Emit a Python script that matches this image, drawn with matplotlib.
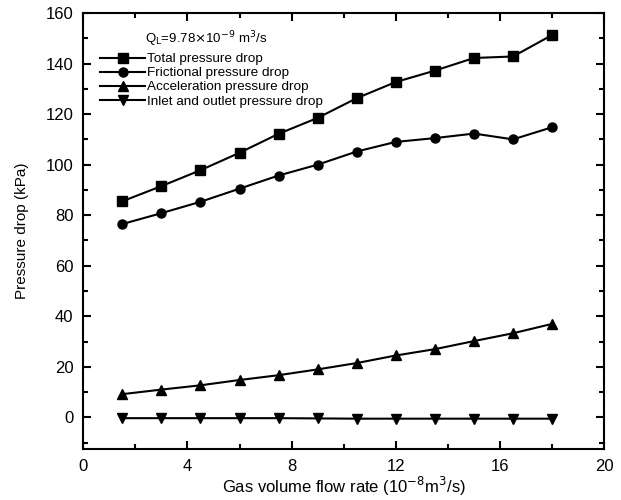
import matplotlib.pyplot as plt
import numpy as np
from matplotlib.ticker import MultipleLocator

plt.rcParams['font.family'] = ['Liberation Sans', 'DejaVu Sans']

# gas volume flow rate (1e-8 m^3/s)
q_gas = [1.5, 3.0, 4.5, 6.0, 7.5, 9.0, 10.5, 12.0, 13.5, 15.0, 16.5, 18.0]
total = [85.5, 91.5, 97.8, 104.7, 112.2, 118.5, 126.3, 132.7, 137.2, 142.2, 142.8, 151.3]
frictional = [76.5, 80.8, 85.3, 90.5, 95.7, 100.0, 105.2, 109.0, 110.5, 112.3, 110.0, 114.8]
acceleration = [9.2, 11.0, 12.7, 14.8, 16.7, 19.0, 21.5, 24.5, 27.0, 30.2, 33.3, 37.0]
inlet_outlet = [-0.3, -0.3, -0.3, -0.3, -0.3, -0.4, -0.5, -0.5, -0.5, -0.5, -0.5, -0.5]

fig = plt.figure(figsize=(6.21, 5.0), dpi=100)
ax = fig.add_axes([0.134, 0.102, 0.839, 0.872])

kw = dict(color='black', lw=1.5, ms=6.5)
ax.plot(q_gas, total, marker='s', label='Total pressure drop', **kw)
ax.plot(q_gas, frictional, marker='o', label='Frictional pressure drop', **kw)
ax.plot(q_gas, acceleration, marker='^', label='Acceleration pressure drop', **kw)
ax.plot(q_gas, inlet_outlet, marker='v', label='Inlet and outlet pressure drop', **kw)

ax.set_xlim(0, 20)
ax.set_ylim(-12.5, 160)
ax.xaxis.set_major_locator(MultipleLocator(4))
ax.xaxis.set_minor_locator(MultipleLocator(2))
ax.yaxis.set_major_locator(MultipleLocator(20))
ax.yaxis.set_minor_locator(MultipleLocator(10))
ax.tick_params(which='both', direction='in', top=True, right=True, width=1.5)
ax.tick_params(which='major', length=6, labelsize=12, pad=7)
ax.tick_params(which='minor', length=3.5)
for s in ax.spines.values():
    s.set_linewidth(1.5)

ax.set_xlabel(r'Gas volume flow rate (10$^{-8}$m$^3$/s)', fontsize=12, labelpad=1)
ax.set_ylabel('Pressure drop (kPa)', fontsize=11, labelpad=12)

ax.text(0.118, 0.94, r'Q$_{\rm L}$=9.78$\times$10$^{-9}$ m$^3$/s', transform=ax.transAxes,
        fontsize=9.5, va='center')
ax.legend(loc='upper left', bbox_to_anchor=(0.015, 0.93), frameon=False, fontsize=9.7,
          handlelength=3.3, handletextpad=0.12, labelspacing=0.12, borderpad=0.2)

fig.savefig('out.png', dpi=100)
